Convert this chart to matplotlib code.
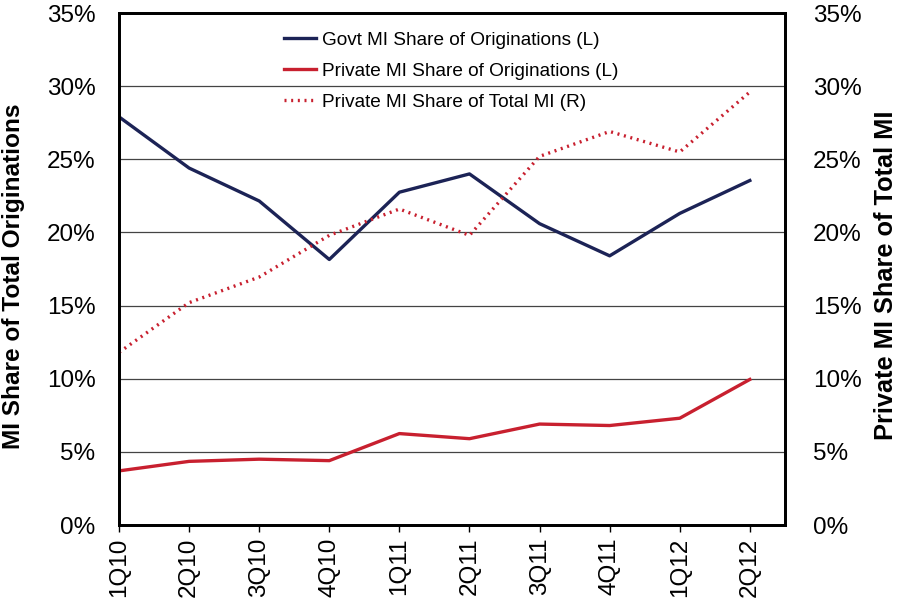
import matplotlib
matplotlib.use("Agg")
import matplotlib.pyplot as plt
from matplotlib.ticker import FuncFormatter

plt.rcParams['font.family'] = ['Liberation Sans', 'DejaVu Sans']

quarters = ["1Q10", "2Q10", "3Q10", "4Q10", "1Q11", "2Q11", "3Q11", "4Q11", "1Q12", "2Q12"]
govt_share = [27.9, 24.4, 22.15, 18.15, 22.75, 24.0, 20.6, 18.4, 21.3, 23.55]
private_share = [3.7, 4.35, 4.5, 4.4, 6.25, 5.9, 6.9, 6.8, 7.3, 9.95]
private_total_mi = [11.8, 15.2, 16.95, 19.8, 21.6, 19.8, 25.2, 26.9, 25.5, 29.6]

navy = "#1c2356"
red = "#c8202f"

W, H = 897, 602
fig = plt.figure(figsize=(8.97, 6.02), dpi=100)
ax = fig.add_axes([0.1327, 0.1279, 0.7423, 0.8505])
ax2 = ax.twinx()

x = list(range(len(quarters)))
l1, = ax.plot(x, govt_share, color=navy, lw=2.4, label="Govt MI Share of Originations (L)")
l2, = ax.plot(x, private_share, color=red, lw=2.4, label="Private MI Share of Originations (L)")
l3, = ax2.plot(x, private_total_mi, color=red, lw=2.4, linestyle=(0, (0.6, 1.4)),
               label="Private MI Share of Total MI (R)")

for a in (ax, ax2):
    a.set_ylim(0, 35)
    a.set_yticks(range(0, 36, 5))
    a.yaxis.set_major_formatter(FuncFormatter(lambda v, p: f"{int(v)}%"))
    a.tick_params(axis='y', length=0, labelsize=17.5)
ax.tick_params(axis='y', pad=17)
ax2.tick_params(axis='y', pad=20)
ax.set_xlim(0, 9.5)
ax.set_xticks(x)
ax.set_xticklabels(quarters, rotation=90, fontsize=17.5)
ax.tick_params(axis='x', length=5, width=1, direction='out', pad=4)

ax.grid(axis='y', color='#444444', lw=0.9)
ax.set_axisbelow(True)
for a in (ax, ax2):
    for s in a.spines.values():
        s.set_linewidth(2)
        s.set_color('black')

fig.text(14 / W, 1 - 276 / H, "MI Share of Total Originations", rotation=90,
         ha='center', va='center', fontsize=17.6, fontweight='bold')
fig.text(886 / W, 1 - 275 / H, "Private MI Share of Total MI", rotation=90,
         ha='center', va='center', fontsize=18.3, fontweight='bold')

leg = ax.legend(handles=[l1, l2, l3], loc='upper left', bbox_to_anchor=(0.222, 0.997),
                frameon=False, fontsize=13.7, handlelength=1.7, handletextpad=0.3,
                labelspacing=0.72)

fig.savefig("out.png", dpi=100)
